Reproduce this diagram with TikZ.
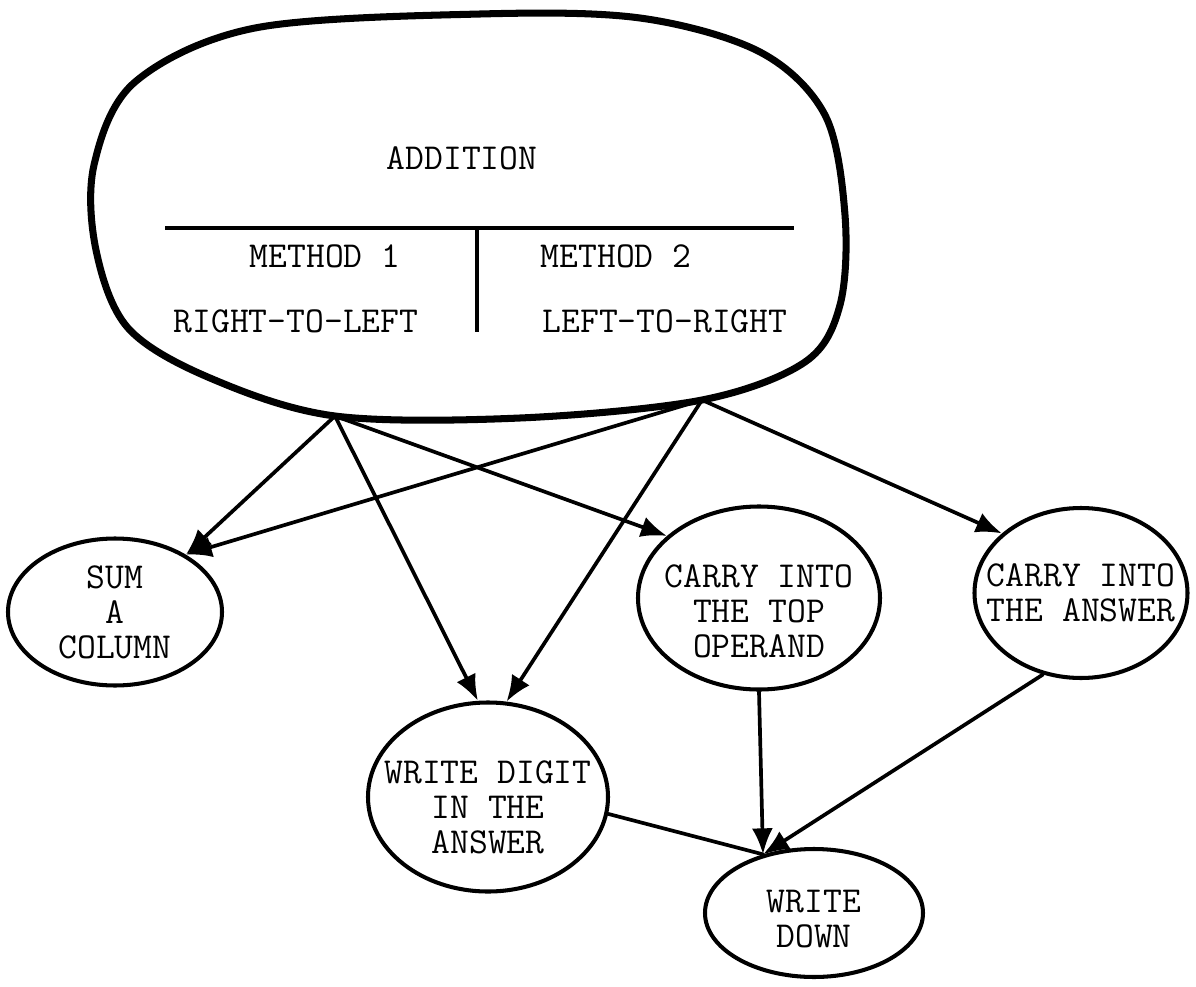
\documentclass[tikz,border=0pt]{standalone}
\usepackage{tikz}
\usetikzlibrary{shapes.geometric}
\usetikzlibrary{arrows.meta}
\newcommand{\TaskFont}{\fontsize{20.8}{20}\selectfont\ttfamily}
\tikzstyle{FrameLine}=[line width=4pt,line join=round]
\tikzstyle{RuleLine}=[line width=1.8pt]
\tikzstyle{HeadText}=[inner sep=0pt,font=\TaskFont]
\tikzstyle{TaskText}=[inner sep=0pt,font=\TaskFont,align=center]
\tikzstyle{TaskNode}=[ellipse,draw=black,line width=2.3pt,inner sep=0pt]
\tikzstyle{EdgeLine}=[line width=2.1pt,cap=round]
\tikzstyle{EdgeTask}=[EdgeLine,-{Latex[length=5.2mm,width=4.2mm]}]

\begin{document}
\begin{tikzpicture}[x=0.2mm,y=-0.2mm]
        \useasboundingbox(0,0)rectangle(1196,987);
        \draw[FrameLine]plot[smooth cycle,tension=0.55]coordinates{(480,14)(640,18)(760,52)(825,115)(845,215)(840,305)(805,362)(702,400)(520,418)(335,416)(210,378)(128,328)(96,250)(94,165)(135,82)(255,28)};
        \draw[RuleLine](165,228)--(794,228);
        \draw[RuleLine](477,228)--(477,332);
        \node[HeadText](add)at(462,158){ADDITION};
        \node[HeadText](m1)at(325,256){METHOD 1};
        \node[HeadText](m2)at(616,256){METHOD 2};
        \node[HeadText](rl)at(296,321){RIGHT-TO-LEFT};
        \node[HeadText](lr)at(665,321){LEFT-TO-RIGHT};
        \coordinate(src1)at(335,416);
        \coordinate(src2)at(702,400);
        \node[TaskNode,minimum width=4.28cm,minimum height=2.94cm,
            label={[TaskText]center:SUM\\A\\COLUMN}](sum)at(115,612){};
        \node[TaskNode,minimum width=4.8cm,minimum height=3.78cm,
            label={[TaskText,yshift=-2mm]center:WRITE DIGIT\\IN THE\\ANSWER}](digit)at(488,797){};
        \node[TaskNode,minimum width=4.84cm,minimum height=3.66cm,
            label={[TaskText,yshift=-2.6mm]center:CARRY INTO\\THE TOP\\OPERAND}](top)at(759,598){};
        \node[TaskNode,minimum width=4.26cm,minimum height=3.4cm,
            label={[TaskText]center:CARRY INTO\\THE ANSWER}](ans)at(1081,593){};
        \node[TaskNode,minimum width=4.36cm,minimum height=2.56cm,
            label={[TaskText,yshift=-1.2mm]center:WRITE\\DOWN}](down)at(814,913){};
        \draw[EdgeTask](src1)--(sum.39);
        \draw[EdgeTask](src1)--(digit.96);
        \draw[EdgeTask](src1)--(top.146);
        \draw[EdgeTask](src2)--(sum.39);
        \draw[EdgeTask](src2)--(digit.79);
        \draw[EdgeTask](src2)--(ans.143);
        \draw[EdgeTask](top.south)--(down.131);
        \draw[EdgeTask](ans.245)--(down.131);
        \draw[EdgeLine](digit.-8)--(down.131);
    \end{tikzpicture}
\end{document}
